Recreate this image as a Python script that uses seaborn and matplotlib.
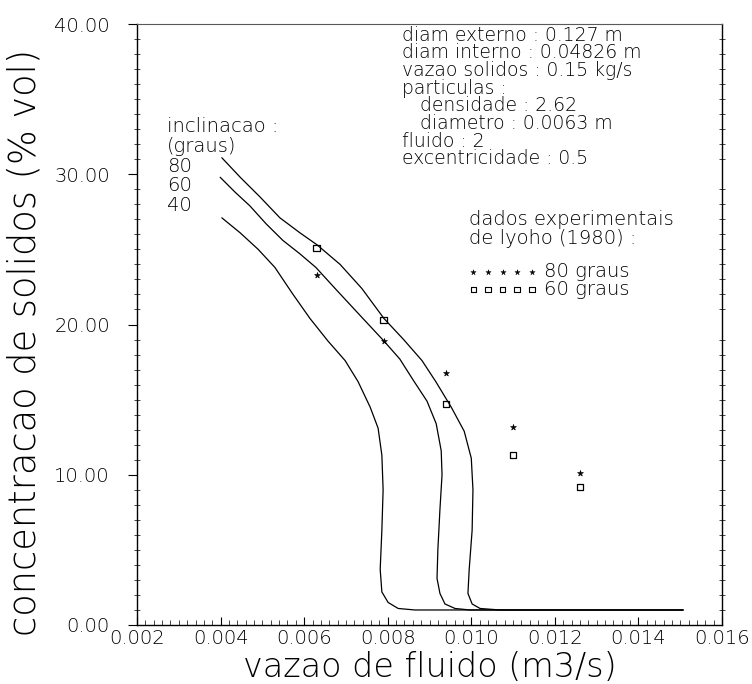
import matplotlib
matplotlib.use("Agg")
import matplotlib.pyplot as plt
from matplotlib.ticker import MultipleLocator, FormatStrFormatter
import pandas as pd
import seaborn as sns

# Simulated curves: solids concentration vs. fluid flow rate, per inclination
vazao_80 = [0.00403, 0.00447, 0.00494, 0.00542, 0.00590, 0.00631, 0.00686, 0.00738,
            0.00791, 0.00838, 0.00882, 0.00915, 0.00952, 0.00983, 0.01000, 0.01004,
            0.01002, 0.00995, 0.00992, 0.01002, 0.01021, 0.01069, 0.01507]
conc_80 = [31.1, 29.8, 28.5, 27.1, 26.1, 25.3, 24.0, 22.4, 20.4, 19.0, 17.6, 16.2,
           14.5, 12.9, 11.1, 9.0, 6.3, 3.7, 2.1, 1.4, 1.1, 1.0, 1.0]

vazao_60 = [0.00399, 0.00435, 0.00470, 0.00509, 0.00549, 0.00590, 0.00628, 0.00674,
            0.00734, 0.00791, 0.00829, 0.00861, 0.00894, 0.00916, 0.00928, 0.00930,
            0.00925, 0.00920, 0.00918, 0.00925, 0.00937, 0.00961, 0.00997, 0.01507]
conc_60 = [29.8, 28.8, 27.9, 26.7, 25.6, 24.7, 23.8, 22.4, 20.6, 18.9, 17.7, 16.3,
           14.9, 13.4, 11.6, 10.0, 7.7, 5.0, 3.1, 2.1, 1.4, 1.1, 1.0, 1.0]

vazao_40 = [0.00403, 0.00447, 0.00490, 0.00530, 0.00571, 0.00614, 0.00657, 0.00698,
            0.00729, 0.00758, 0.00777, 0.00786, 0.00789, 0.00786, 0.00782, 0.00786,
            0.00801, 0.00825, 0.00865, 0.01507]
conc_40 = [27.1, 26.1, 25.0, 23.8, 22.1, 20.4, 18.9, 17.6, 16.2, 14.5, 13.1, 11.3,
           9.0, 6.3, 3.7, 2.2, 1.5, 1.1, 1.0, 1.0]

# Experimental data (Iyoho, 1980)
vazao_exp = [0.0063, 0.0079, 0.0094, 0.0110, 0.0126]
conc_exp_80 = [23.3, 18.9, 16.8, 13.2, 10.1]
conc_exp_60 = [25.1, 20.3, 14.7, 11.3, 9.2]

x_ticks = [0.002, 0.004, 0.006, 0.008, 0.010, 0.012, 0.014, 0.016]
y_ticks = [0.0, 10.0, 20.0, 30.0, 40.0]

info_lines = ["diam externo : 0.127 m",
              "diam interno : 0.04826 m",
              "vazao solidos : 0.15 kg/s",
              "particulas :",
              "   densidade : 2.62",
              "   diametro : 0.0063 m",
              "fluido : 2",
              "excentricidade : 0.5"]
incl_lines = ["inclinacao :", "(graus)", "80", "60", "40"]

sns.set_theme(style="ticks")
plt.rcParams["font.family"] = ["DejaVu Sans"]
plt.rcParams["font.weight"] = 200
plt.rcParams["axes.labelweight"] = 200
TXT = dict(color="black", fontweight=200)

fig = plt.figure(figsize=(7.52, 6.84), dpi=100)
ax = fig.add_axes([137 / 752, 59 / 684, 585 / 752, 601 / 684])

curves = pd.concat([
    pd.DataFrame({"vazao": vazao_80, "conc": conc_80, "incl": "80"}),
    pd.DataFrame({"vazao": vazao_60, "conc": conc_60, "incl": "60"}),
    pd.DataFrame({"vazao": vazao_40, "conc": conc_40, "incl": "40"}),
])
sns.lineplot(data=curves, x="vazao", y="conc", units="incl", estimator=None,
             sort=False, color="black", lw=0.9, ax=ax, legend=False)

sns.scatterplot(x=vazao_exp, y=conc_exp_80, marker="*", s=20, color="black",
                edgecolor="black", linewidth=0.4, ax=ax, legend=False)
sns.scatterplot(x=vazao_exp, y=conc_exp_60, marker="s", s=22, facecolor="none",
                edgecolor="black", linewidth=0.9, ax=ax, legend=False)

ax.set_xlim(x_ticks[0], x_ticks[-1])
ax.set_ylim(y_ticks[0], y_ticks[-1])
ax.set_xticks(x_ticks)
ax.set_yticks(y_ticks)
ax.xaxis.set_major_formatter(FormatStrFormatter("%.3f"))
ax.yaxis.set_major_formatter(FormatStrFormatter("%.2f"))
ax.xaxis.set_minor_locator(MultipleLocator(0.0002))
ax.yaxis.set_minor_locator(MultipleLocator(1))

ax.tick_params(axis="x", which="major", direction="in", length=6, width=0.8,
               labelsize=14, pad=3, colors="black")
ax.tick_params(axis="x", which="minor", direction="in", length=3.6, width=0.6)
ax.tick_params(axis="y", which="major", direction="out", length=6.5, width=0.8,
               labelsize=14, pad=13, colors="black")
ax.tick_params(axis="y", which="minor", direction="inout", length=5, width=0.6)
ax.tick_params(axis="y", which="minor", right=True)
for lbl in ax.get_xticklabels() + ax.get_yticklabels():
    lbl.set_fontweight(200)

for side in ["left", "bottom", "right"]:
    ax.spines[side].set_linewidth(1.0)
    ax.spines[side].set_color("black")
ax.spines["top"].set_linewidth(0.8)
ax.spines["top"].set_color("0.35")

ax.set_xlabel("vazao de fluido (m3/s)", fontsize=24, labelpad=2, **TXT)
ax.set_ylabel("concentracao de solidos (% vol)", fontsize=26.5, **TXT)
ax.yaxis.set_label_coords(-0.162, 0.47)

# Parameter block
ax.text(0.453, 0.997, "\n".join(info_lines), transform=ax.transAxes,
        fontsize=13.5, va="top", ha="left", linespacing=0.91, **TXT)

# Inclination labels next to the curve starts
ax.text(0.051, 0.845, "\n".join(incl_lines), transform=ax.transAxes,
        fontsize=14, va="top", ha="left", linespacing=1.05, **TXT)

# Experimental-data key
ax.text(0.567, 0.690, "dados experimentais\nde lyoho (1980) :",
        transform=ax.transAxes, fontsize=14, va="top", ha="left",
        linespacing=0.95, **TXT)
key_x = [0.575, 0.600, 0.625, 0.650, 0.675]
ax.scatter(key_x, [0.588] * 5, transform=ax.transAxes, marker="*", s=16,
           color="black", linewidth=0.3, clip_on=False)
ax.scatter(key_x, [0.558] * 5, transform=ax.transAxes, marker="s", s=16,
           facecolor="none", edgecolor="black", linewidth=0.8, clip_on=False)
ax.text(0.695, 0.588, "80 graus", transform=ax.transAxes, fontsize=14,
        va="center", ha="left", **TXT)
ax.text(0.695, 0.558, "60 graus", transform=ax.transAxes, fontsize=14,
        va="center", ha="left", **TXT)

fig.savefig("out.png", dpi=100, facecolor="white")
